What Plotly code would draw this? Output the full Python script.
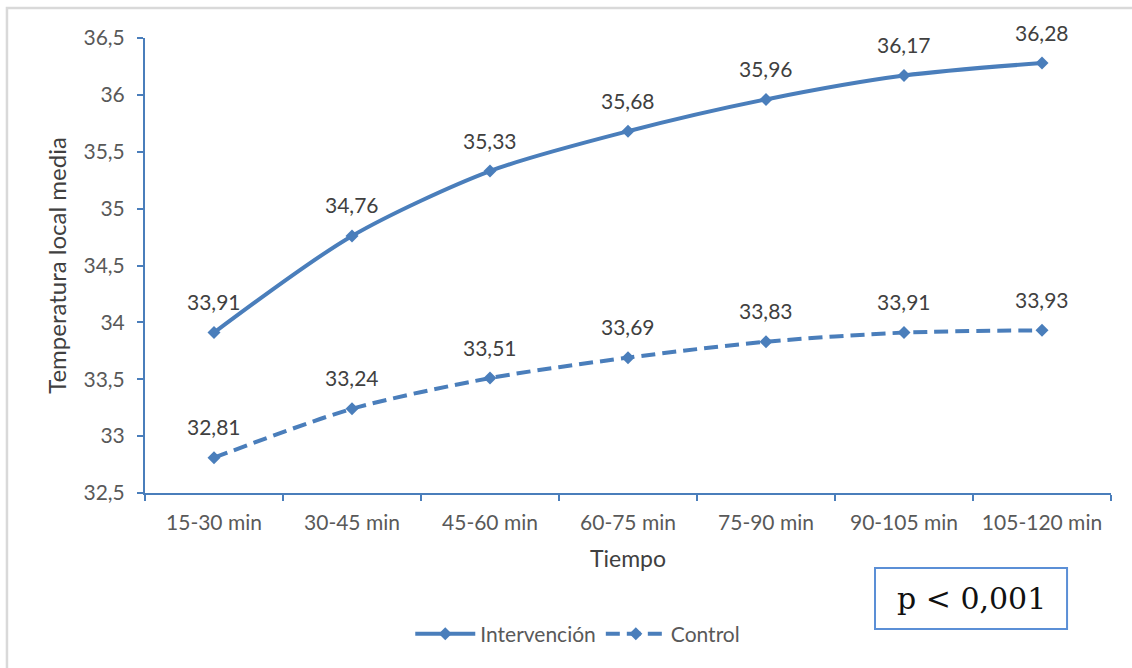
import plotly.graph_objects as go

# Time intervals and mean local temperature per group
periodos = ["15-30 min", "30-45 min", "45-60 min", "60-75 min",
            "75-90 min", "90-105 min", "105-120 min"]
intervencion = [33.91, 34.76, 35.33, 35.68, 35.96, 36.17, 36.28]
control = [32.81, 33.24, 33.51, 33.69, 33.83, 33.91, 33.93]

AZUL = "#4A7EBB"
GRIS_TXT = "#595959"
FUENTE = "Lato"

fig = go.Figure()

fig.add_trace(go.Scatter(
    x=periodos, y=intervencion, name="Intervención",
    mode="lines+markers", line=dict(color=AZUL, width=4, shape="spline", smoothing=0.8),
    marker=dict(symbol="diamond", size=10, color=AZUL),
))
fig.add_trace(go.Scatter(
    x=periodos, y=control, name="Control",
    mode="lines+markers",
    line=dict(color=AZUL, width=4, shape="spline", smoothing=0.8, dash="14px,7px"),
    marker=dict(symbol="diamond", size=10, color=AZUL),
))

# Value labels above each point
anotaciones = []
for serie in (intervencion, control):
    for p, v in zip(periodos, serie):
        anotaciones.append(dict(
            x=p, y=v, text=f"{v:.2f}".replace(".", ","), showarrow=False,
            yshift=31, font=dict(family=FUENTE, size=21, color="#404040"),
        ))

# Significance box
anotaciones.append(dict(
    xref="paper", yref="paper", x=0.8551, y=-0.2319, text="p < 0,001",
    showarrow=False, xanchor="center", yanchor="middle",
    font=dict(family="DejaVu Serif", size=30, color="#111111"),
))

fig.update_layout(
    width=1132, height=668,
    margin=dict(l=145, r=21, t=38, b=175),
    paper_bgcolor="white", plot_bgcolor="white",
    separators=",.",
    font=dict(family=FUENTE, size=21, color=GRIS_TXT),
    showlegend=True,
    legend=dict(orientation="h", x=0.448, y=-0.31, xanchor="center", yanchor="middle",
                font=dict(family=FUENTE, size=21, color=GRIS_TXT),
                itemwidth=60, tracegroupgap=0),
    annotations=anotaciones,
    shapes=[
        # outer chart frame
        dict(type="rect", xref="paper", yref="paper", x0=-0.1429, x1=1.06, y0=-0.45, y1=1.0659,
             line=dict(color="#D9D9D9", width=2.5), layer="below"),
        # p-value box
        dict(type="rect", xref="paper", yref="paper", x0=0.7557, x1=0.9545, y0=-0.2989, y1=-0.1648,
             line=dict(color="#5B8FD6", width=2)),
    ],
)

fig.update_xaxes(
    type="category", range=[-0.5, len(periodos) - 0.5],
    showline=True, linecolor=AZUL, linewidth=2,
    ticks="outside", tickson="boundaries", ticklen=6, tickcolor=AZUL, tickwidth=2,
    showgrid=False, zeroline=False, ticklabelstandoff=10,
    tickfont=dict(family=FUENTE, size=21, color=GRIS_TXT),
    title=dict(text="Tiempo", font=dict(family=FUENTE, size=23, color="#404040"), standoff=18),
)
fig.update_yaxes(
    range=[32.5, 36.5], dtick=0.5, tick0=32.5,
    showline=True, linecolor=AZUL, linewidth=2,
    ticks="outside", ticklen=6, tickcolor=AZUL, tickwidth=2,
    showgrid=False, zeroline=False, ticklabelstandoff=8,
    tickfont=dict(family=FUENTE, size=21, color=GRIS_TXT),
    title=dict(text="Temperatura local media", font=dict(family=FUENTE, size=24, color="#404040"), standoff=10),
)

fig.write_html("out.html")
